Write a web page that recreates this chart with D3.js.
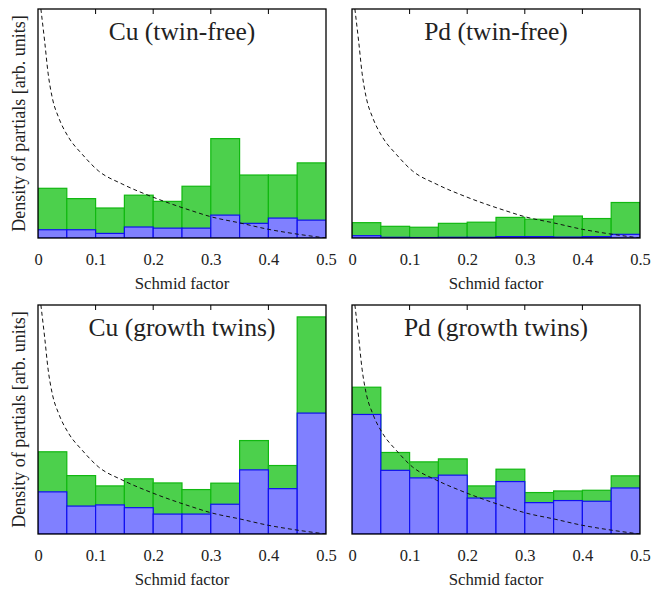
<!DOCTYPE html>
<html>
<head>
<meta charset="utf-8">
<script src="https://cdn.jsdelivr.net/npm/d3@7"></script>
<style>
  body { margin: 0; background: #fff; }
  text { font-family: "Liberation Serif", "Times New Roman", serif; fill: #222; }
</style>
</head>
<body>
<div id="chart"></div>
<script>
// bin starts of the Schmid factor histogram (bin width 0.05)
var binStarts = [0, 0.05, 0.1, 0.15, 0.2, 0.25, 0.3, 0.35, 0.4, 0.45];
var binWidth = 0.05;
var xTicks = [0, 0.1, 0.2, 0.3, 0.4, 0.5];

var titles = ['Cu (twin-free)', 'Pd (twin-free)', 'Cu (growth twins)', 'Pd (growth twins)'];

// green = all partials, blue = subset (arb. units)
var cuFreeTotal = [0.217, 0.172, 0.131, 0.187, 0.160, 0.226, 0.434, 0.275, 0.275, 0.328];
var cuFreeSub   = [0.036, 0.036, 0.020, 0.048, 0.043, 0.043, 0.100, 0.064, 0.087, 0.078];
var pdFreeTotal = [0.067, 0.051, 0.047, 0.064, 0.069, 0.090, 0.082, 0.096, 0.085, 0.155];
var pdFreeSub   = [0.010, 0.003, 0.002, 0.003, 0.003, 0.006, 0.006, 0.004, 0.006, 0.016];
var cuTwinTotal = [0.359, 0.255, 0.210, 0.241, 0.223, 0.194, 0.222, 0.408, 0.299, 0.948];
var cuTwinSub   = [0.184, 0.122, 0.127, 0.115, 0.087, 0.087, 0.130, 0.280, 0.198, 0.528];
var pdTwinTotal = [0.641, 0.356, 0.315, 0.328, 0.210, 0.283, 0.181, 0.188, 0.191, 0.254];
var pdTwinSub   = [0.522, 0.278, 0.245, 0.257, 0.157, 0.229, 0.137, 0.146, 0.143, 0.201];

// dashed reference curve
var curveX = [0.005, 0.0115, 0.0175, 0.025, 0.036, 0.053, 0.077, 0.105, 0.146, 0.198, 0.268, 0.30, 0.35, 0.40, 0.45, 0.50];
var curveY = [1.0, 0.86, 0.72, 0.61, 0.525, 0.44, 0.365, 0.293, 0.236, 0.18, 0.118, 0.093, 0.066, 0.038, 0.017, 0.0];

var totals = [cuFreeTotal, pdFreeTotal, cuTwinTotal, pdTwinTotal];
var subs = [cuFreeSub, pdFreeSub, cuTwinSub, pdTwinSub];

var width = 667, height = 589;
var panelW = 288, panelH = 229;
var lefts = [38, 352], tops = [9, 305];

var svg = d3.select('#chart').append('svg')
  .attr('width', width)
  .attr('height', height);

var x = d3.scaleLinear().domain([0, 0.5]).range([0, panelW]);
var y = d3.scaleLinear().domain([0, 1]).range([panelH, 0]);

var line = d3.line()
  .x(function (d) { return x(d[0]); })
  .y(function (d) { return y(d[1]); })
  .curve(d3.curveMonotoneX);

titles.forEach(function (title, p) {
  var col = p % 2, row = Math.floor(p / 2);
  var g = svg.append('g')
    .attr('transform', 'translate(' + lefts[col] + ',' + tops[row] + ')');

  g.append('clipPath').attr('id', 'clip' + p)
    .append('rect').attr('width', panelW).attr('height', panelH);

  var bars = g.append('g').attr('clip-path', 'url(#clip' + p + ')');

  bars.selectAll('rect.total')
    .data(totals[p]).enter()
    .append('rect')
    .attr('class', 'total')
    .attr('x', function (d, i) { return x(binStarts[i]); })
    .attr('y', function (d) { return y(d); })
    .attr('width', x(binWidth) - x(0))
    .attr('height', function (d) { return y(0) - y(d); })
    .attr('fill', '#4cd04c')
    .attr('stroke', '#11b811')
    .attr('stroke-width', 1.2);

  bars.selectAll('rect.sub')
    .data(subs[p]).enter()
    .append('rect')
    .attr('class', 'sub')
    .attr('x', function (d, i) { return x(binStarts[i]); })
    .attr('y', function (d) { return y(d); })
    .attr('width', x(binWidth) - x(0))
    .attr('height', function (d) { return y(0) - y(d); })
    .attr('fill', '#8080ff')
    .attr('stroke', '#1010f0')
    .attr('stroke-width', 1.2);

  bars.append('path')
    .datum(curveX.map(function (v, i) { return [v, curveY[i]]; }))
    .attr('d', line)
    .attr('fill', 'none')
    .attr('stroke', '#111')
    .attr('stroke-width', 1)
    .attr('stroke-dasharray', '4,3');

  // inward ticks along the top edge
  var inner = xTicks.slice(1, -1);
  g.selectAll('line.ttick').data(inner).enter()
    .append('line')
    .attr('x1', function (d) { return x(d); })
    .attr('x2', function (d) { return x(d); })
    .attr('y1', 0).attr('y2', 5)
    .attr('stroke', '#000');

  // frame
  g.append('rect')
    .attr('width', panelW).attr('height', panelH)
    .attr('fill', 'none')
    .attr('stroke', '#000')
    .attr('stroke-width', 1.3);

  var axis = d3.axisBottom(x)
    .tickValues(xTicks)
    .tickSize(0)
    .tickPadding(15)
    .tickFormat(function (d) { return d === 0 ? '0' : d3.format('.1f')(d); });

  var ax = g.append('g')
    .attr('transform', 'translate(0,' + panelH + ')')
    .call(axis);
  ax.select('.domain').remove();
  ax.selectAll('text')
    .style('font-size', '16.5px')
    .style('font-family', '"Liberation Serif", serif')
    .attr('fill', '#222');

  g.append('text')
    .attr('x', panelW / 2)
    .attr('y', panelH + 51)
    .attr('text-anchor', 'middle')
    .style('font-size', '16.8px')
    .text('Schmid factor');

  g.append('text')
    .attr('x', panelW / 2)
    .attr('y', 31)
    .attr('text-anchor', 'middle')
    .style('font-size', '25.5px')
    .text(title);

  if (col === 0) {
    g.append('text')
      .attr('transform', 'translate(-13,' + (panelH / 2) + ') rotate(-90)')
      .attr('text-anchor', 'middle')
      .style('font-size', '18px')
      .text('Density of partials [arb. units]');
  }
});
</script>
</body>
</html>
